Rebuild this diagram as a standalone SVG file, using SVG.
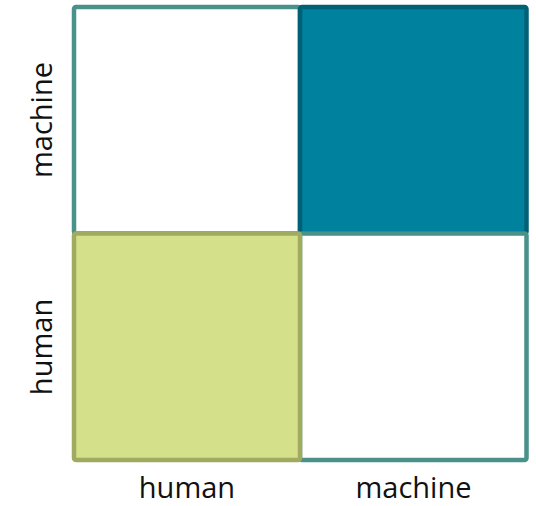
<svg xmlns="http://www.w3.org/2000/svg" width="536" height="506" viewBox="0 0 536 506">
<style>
.lbl{font-family:"Open Sans","Noto Sans","Liberation Sans",sans-serif;font-size:29px;fill:#111;text-anchor:middle}
.cell{stroke-width:4.5}
</style>
<rect width="536" height="506" fill="#fff"/>
<g id="tl"><rect class="cell" x="74" y="7" width="226" height="226.5" rx="2" fill="#fff" stroke="#4a918a"/></g>
<g id="tr"><rect class="cell" x="300" y="7" width="226.5" height="226.5" rx="2" fill="#00819e" stroke="#006176"/></g>
<g id="br"><rect class="cell" x="300" y="233.5" width="226.5" height="226.5" rx="2" fill="#fff" stroke="#4a918a"/></g>
<g id="bl"><rect class="cell" x="74" y="233.5" width="226" height="226.5" rx="2" fill="#d5e18a" stroke="#a0ab60"/></g>
<g id="labels">
<text class="lbl" x="187" y="498">human</text>
<text class="lbl" x="413.5" y="498">machine</text>
<text class="lbl" transform="translate(52,120) rotate(-90)">machine</text>
<text class="lbl" transform="translate(52,347) rotate(-90)">human</text>
</g>
</svg>
